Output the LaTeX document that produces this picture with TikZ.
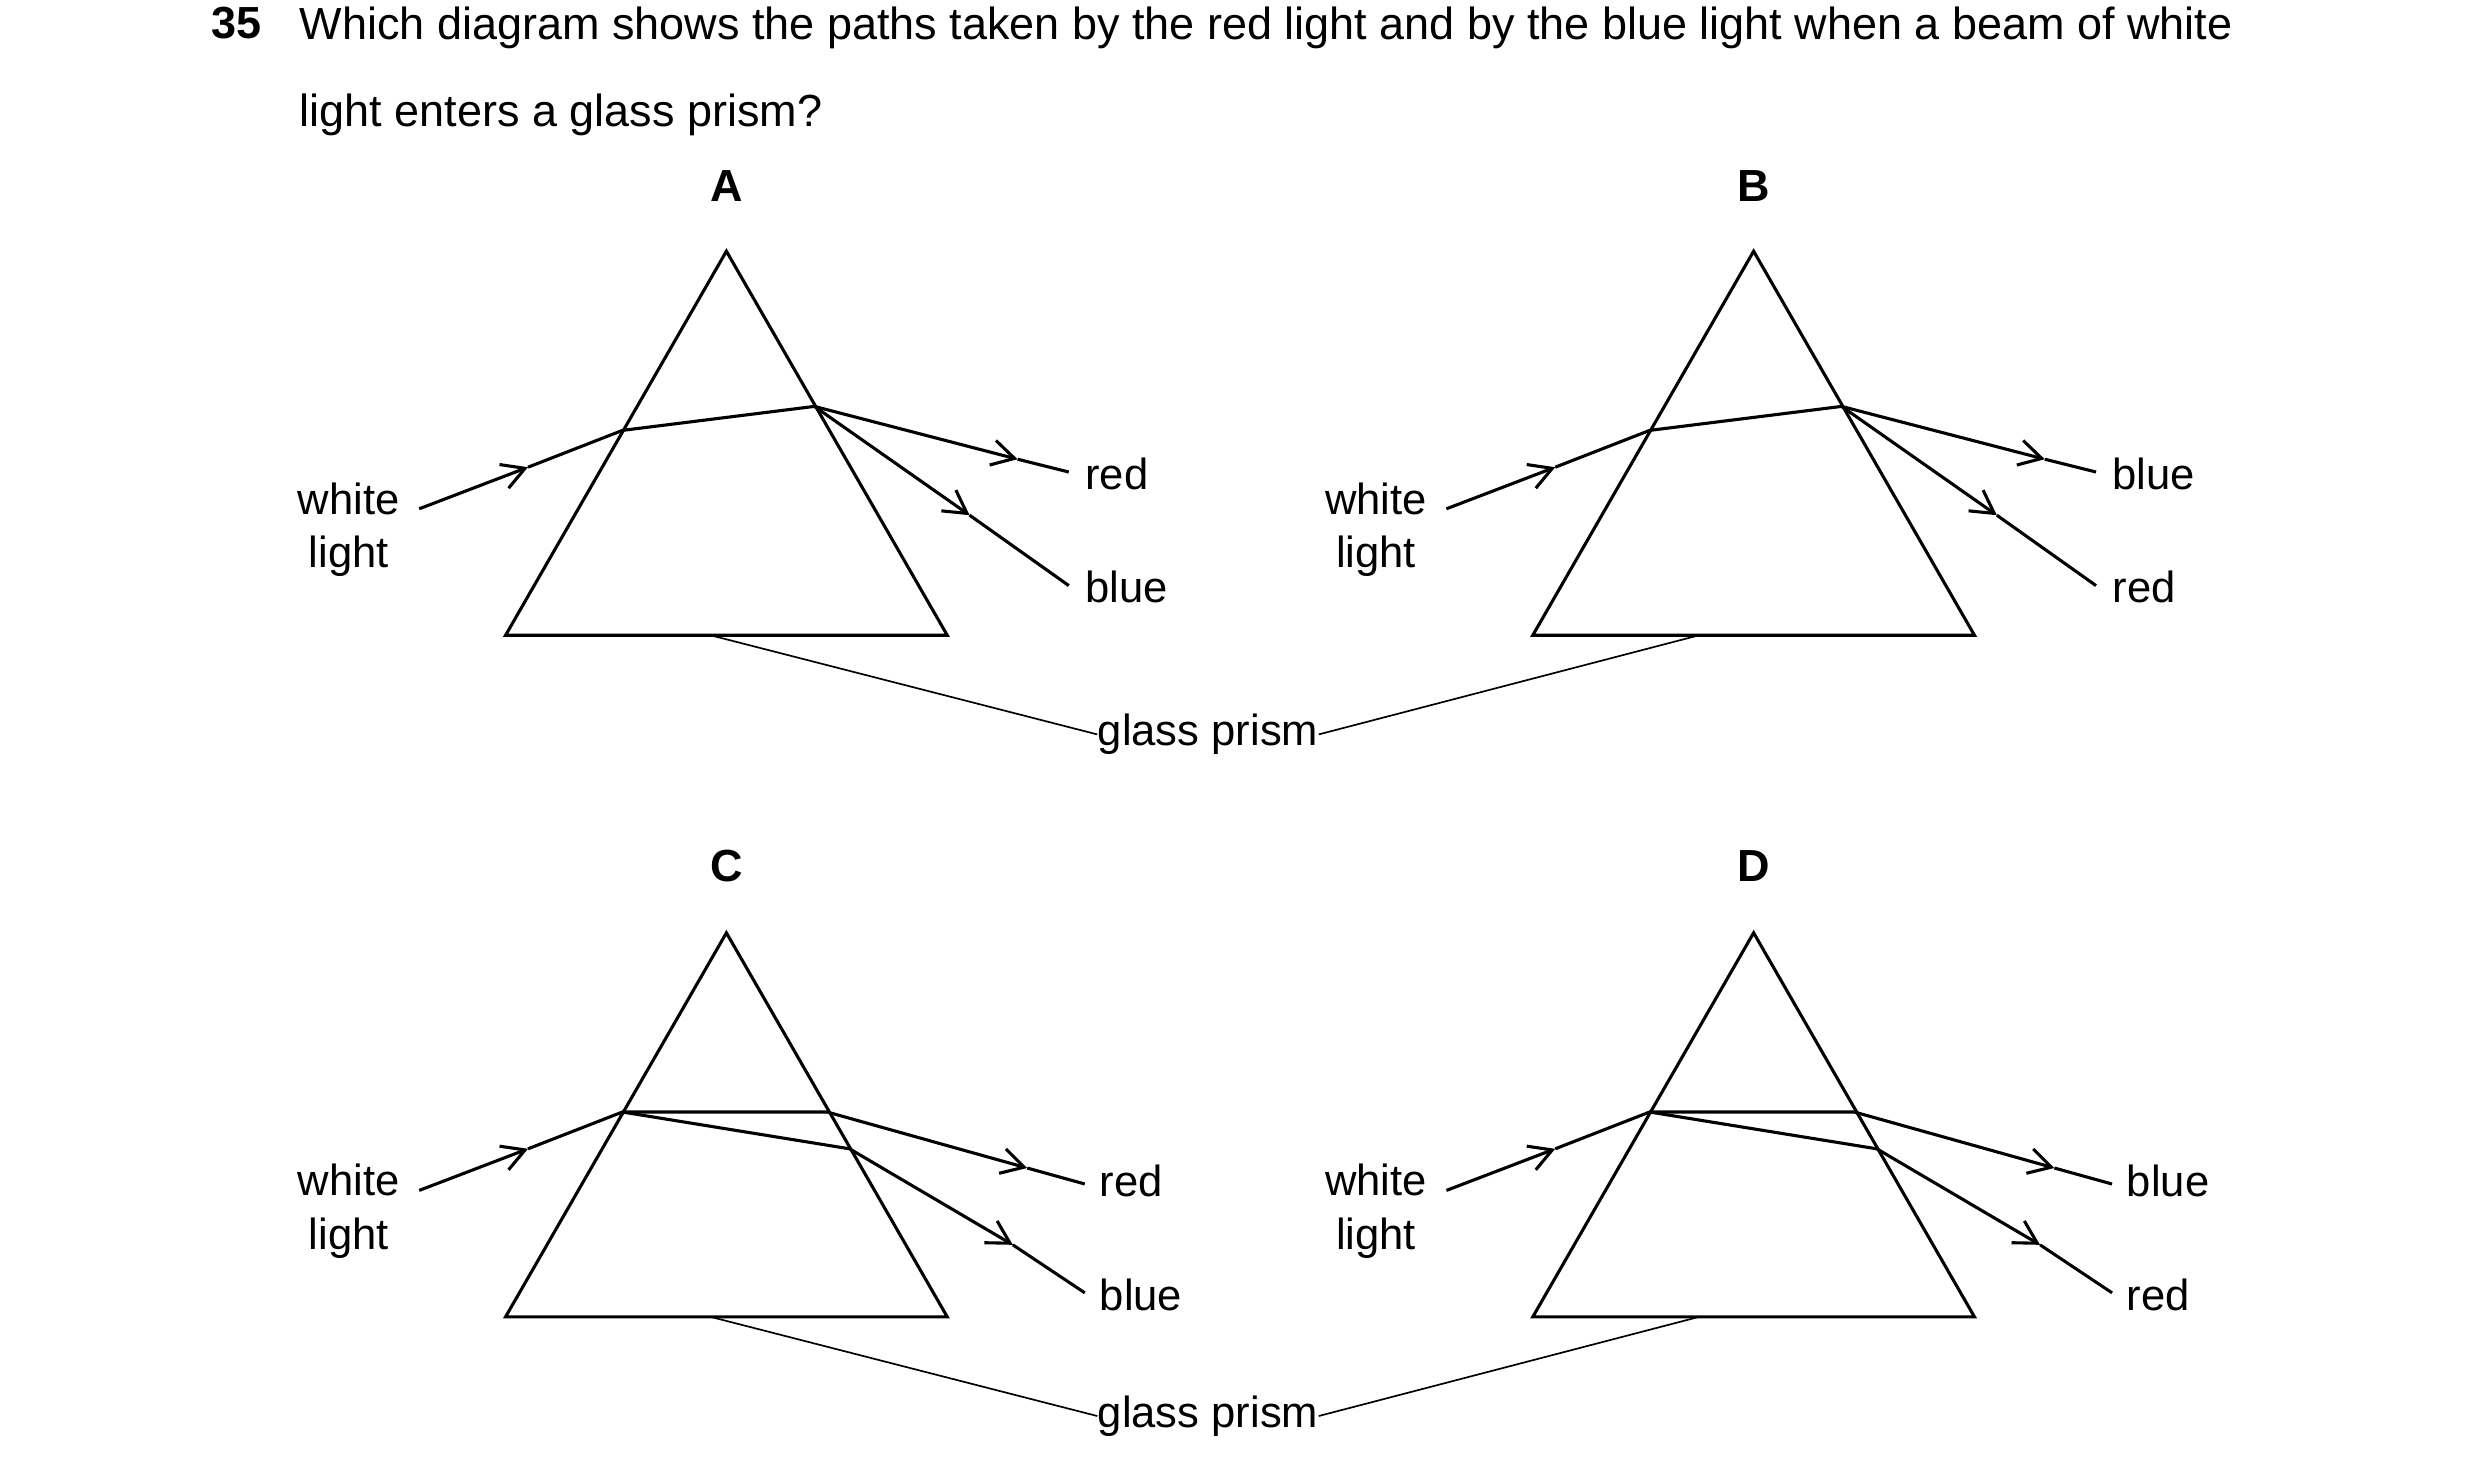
\documentclass[tikz,border=0pt]{standalone}
\usepackage{fontspec}
\setmainfont{Liberation Sans}
\usetikzlibrary{arrows.meta}
\begin{document}
\begin{tikzpicture}[x=0.02cm,y=-0.02cm,
  prism/.style={line width=1.1pt,line join=miter},
  ray/.style={line width=1.1pt},
  arr/.style={ray,-{Straight Barb[length=8pt,width=9pt,line width=1.1pt]}},
  lead/.style={line width=0.6pt},
  lbl/.style={font=\fontsize{15.5}{19}\selectfont,inner sep=0pt},
  ttl/.style={font=\fontsize{16}{31}\selectfont,inner sep=0pt,anchor=north west,align=left}]
\useasboundingbox (0,0) rectangle (1550,913);
\node[ttl,font=\fontsize{16}{31}\selectfont\bfseries] (num) at (132,4) {35};
\node[ttl] (q) at (187,4) {Which diagram shows the paths taken by the red light and by the blue light when a beam of white\\light enters a glass prism?};
% A and B
\foreach \dx/\lt/\top/\bot in {0/A/red/blue,642/B/blue/red}{
\begin{scope}[xshift=\dx*0.02cm]
\node[lbl,font=\fontsize{16}{19}\selectfont\bfseries] (L) at (454,116) {\lt};
\coordinate (ap) at (454,157); \coordinate (bl) at (316,397); \coordinate (br) at (592,397);
\draw[prism] (ap) -- (bl) -- (br) -- cycle;
\node[lbl,align=center] (w) at (218,331) {white\\light};
\coordinate (s) at (262,318); \coordinate (m) at (330,292); \coordinate (p) at (389,269);
\coordinate (q2) at (509,254);
\coordinate (r1) at (668,295); \coordinate (ra) at (636,287);
\coordinate (b1) at (668,366); \coordinate (ba) at (606,322);
\draw[arr] (s) -- (m); \draw[ray] (m) -- (p) -- (q2);
\draw[arr] (q2) -- (ra); \draw[ray] (ra) -- (r1);
\draw[arr] (q2) -- (ba); \draw[ray] (ba) -- (b1);
\node[lbl,anchor=west] (t1) at (678,296) {\top};
\node[lbl,anchor=west] (t2) at (678,367) {\bot};
\end{scope}}
% C and D
\foreach \dx/\lt/\top/\bot in {0/C/red/blue,642/D/blue/red}{
\begin{scope}[xshift=\dx*0.02cm]
\node[lbl,font=\fontsize{16}{19}\selectfont\bfseries] (L) at (454,541) {\lt};
\coordinate (ap) at (454,583); \coordinate (bl) at (316,823); \coordinate (br) at (592,823);
\draw[prism] (ap) -- (bl) -- (br) -- cycle;
\node[lbl,align=center] (w) at (218,757) {white\\light};
\coordinate (s) at (262,744); \coordinate (m) at (330,718); \coordinate (p) at (389,695);
\coordinate (q1) at (517,695); \coordinate (q2) at (531,718);
\coordinate (r1) at (678,740); \coordinate (ra) at (642,730);
\coordinate (b1) at (678,808); \coordinate (ba) at (633,778);
\draw[arr] (s) -- (m); \draw[ray] (m) -- (p) -- (q1); \draw[ray] (p) -- (q2);
\draw[arr] (q1) -- (ra); \draw[ray] (ra) -- (r1);
\draw[arr] (q2) -- (ba); \draw[ray] (ba) -- (b1);
\node[lbl,anchor=west] (t1) at (687,738) {\top};
\node[lbl,anchor=west] (t2) at (687,809) {\bot};
\end{scope}}
% glass prism labels
\node[lbl] (g1) at (755,459) {glass prism};
\coordinate (ga) at (444,397); \coordinate (gb) at (1062,397);
\draw[lead] (ga) -- (g1.west); \draw[lead] (gb) -- (g1.east);
\node[lbl] (g2) at (755,885) {glass prism};
\coordinate (gc) at (444,823); \coordinate (gd) at (1062,823);
\draw[lead] (gc) -- (g2.west); \draw[lead] (gd) -- (g2.east);
\end{tikzpicture}
\end{document}
